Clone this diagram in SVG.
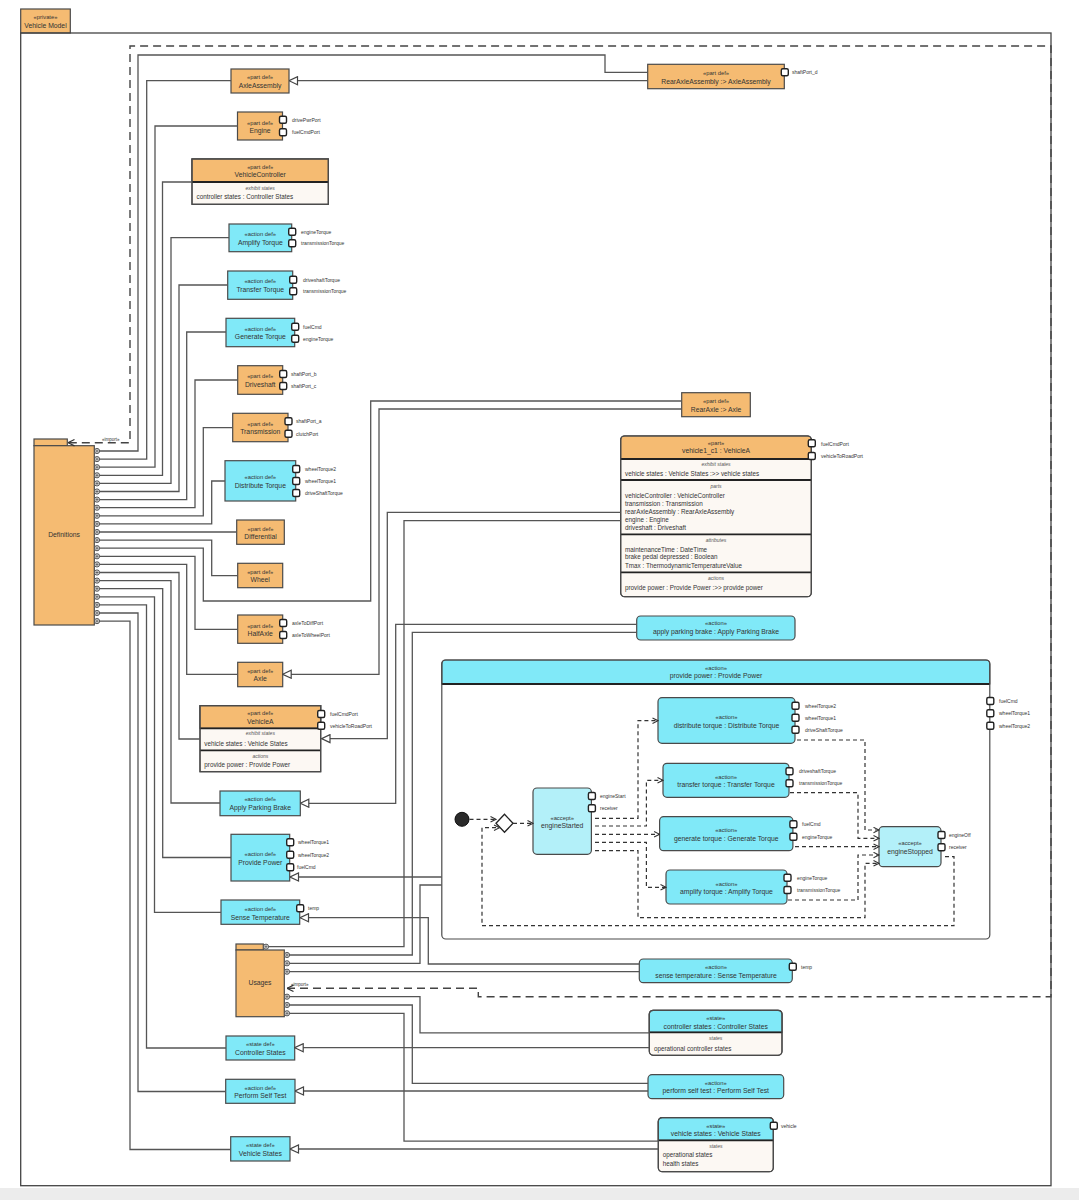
<svg xmlns="http://www.w3.org/2000/svg" width="1079" height="1200" viewBox="0 0 1079 1200">
<style>
.o{fill:#F5BB72;stroke:#4a4a4a;stroke-width:1.2}
.c{fill:#80E9F8;stroke:#4a4a4a;stroke-width:1.2}
.la{fill:#B3F0F9;stroke:#4a4a4a;stroke-width:1.2}
.cm{fill:#FCF8F3;stroke:#4a4a4a;stroke-width:1.2}
.bd{fill:none;stroke:#4a4a4a;stroke-width:1.2}
.sep{stroke:#222;stroke-width:1.8}
.t{font-family:"Liberation Sans",Arial,sans-serif;fill:#333;text-anchor:middle}
.st{font-size:5.8px}
.nm{font-size:6.8px}
.pl{font-family:"Liberation Sans",Arial,sans-serif;fill:#333;font-size:5px}
.ci{font-family:"Liberation Sans",Arial,sans-serif;fill:#555;font-size:5px;font-style:italic;text-anchor:middle}
.ct{font-family:"Liberation Sans",Arial,sans-serif;fill:#333;font-size:6.3px}
.p{fill:#fff;stroke:#222;stroke-width:1.4}
.ln{fill:none;stroke:#555;stroke-width:1.3}
.own{fill:none;stroke:#555;stroke-width:1.3;marker-start:url(#own)}
.gen{fill:none;stroke:#555;stroke-width:1.3;marker-end:url(#gen)}
.imp{fill:none;stroke:#444;stroke-width:1.4;stroke-dasharray:8 5}
.fl{fill:none;stroke:#333;stroke-width:1.2;stroke-dasharray:4 3;marker-end:url(#flow)}
</style>
<defs>
<marker id="gen" markerUnits="userSpaceOnUse" markerWidth="10" markerHeight="10" viewBox="0 0 10 10" refX="9.5" refY="5" orient="auto"><path d="M1,1 L9.5,5 L1,9 z" fill="#fff" stroke="#444" stroke-width="1.2"/></marker>
<marker id="imp" markerUnits="userSpaceOnUse" markerWidth="8" markerHeight="8" viewBox="0 0 8 8" refX="7.5" refY="4" orient="auto-start-reverse"><path d="M1,0.8 L7.5,4 L1,7.2" fill="none" stroke="#333" stroke-width="1.2"/></marker>
<marker id="flow" markerUnits="userSpaceOnUse" markerWidth="7" markerHeight="7" viewBox="0 0 7 7" refX="6.5" refY="3.5" orient="auto"><path d="M1,0.8 L6.5,3.5 L1,6.2" fill="none" stroke="#333" stroke-width="1.1"/></marker>
<marker id="own" markerUnits="userSpaceOnUse" markerWidth="7" markerHeight="7" viewBox="-3.5 -3.5 7 7" refX="0" refY="0" orient="auto"><circle r="2.6" fill="#e6e6e6" stroke="#444" stroke-width="0.9"/><path d="M-1.6,0 H1.6 M0,-1.6 V1.6" stroke="#444" stroke-width="0.7"/></marker>
</defs>
<rect x="0" y="0" width="1079" height="1200" fill="#fff"/>
<rect x="0" y="1188" width="1079" height="12" fill="#ececec"/>

<g id="frame">
<rect x="20.7" y="9" width="49.6" height="24" class="o"/>
<text class="t st" x="45.5" y="19.3">«private»</text>
<text class="t nm" x="45.5" y="27.6">Vehicle Model</text>
<rect x="20.7" y="33" width="1030.3" height="1152.7" fill="none" stroke="#444" stroke-width="1.3"/>
</g>

<g id="nodes">
<g id="definitions">
<rect x="34" y="439" width="33.3" height="6.7" class="o"/>
<rect x="34" y="445.7" width="60.3" height="179.3" class="o"/>
<text class="t nm" x="64" y="537.3">Definitions</text>
</g>
<g id="usages">
<rect x="236" y="944" width="27.3" height="6" class="o"/>
<rect x="236" y="950" width="48.3" height="66.7" class="o"/>
<text class="t nm" x="260" y="985">Usages</text>
</g>

<g id="axleAssembly"><rect x="231" y="69" width="58" height="24" class="o"/><text class="t st" x="260" y="79.3">«part def»</text><text class="t nm" x="260" y="88">AxleAssembly</text></g>

<g id="engine"><rect x="237.5" y="112" width="45" height="28" class="o"/><text class="t st" x="260" y="124.5">«part def»</text><text class="t nm" x="260" y="132.8">Engine</text>
<rect x="279.5" y="116.2" width="7" height="7" rx="1.5" class="p"/><rect x="279.5" y="128.8" width="7" height="7" rx="1.5" class="p"/>
<text class="pl" x="292" y="121.5">drivePwrPort</text><text class="pl" x="292" y="134">fuelCmdPort</text></g>

<g id="vehicleController"><rect x="192" y="159" width="136.3" height="45.3" class="cm"/><rect x="192" y="159" width="136.3" height="23" class="o"/><line x1="192" y1="182" x2="328.3" y2="182" class="sep"/><rect x="192" y="159" width="136.3" height="45.3" class="bd"/>
<text class="t st" x="260.2" y="168.7">«part def»</text><text class="t nm" x="260.2" y="177.2">VehicleController</text>
<text class="ci" x="260.2" y="190">exhibit states</text><text class="ct" x="196.5" y="199.3">controller states : Controller States</text></g>

<g id="amplifyTorque"><rect x="229" y="224" width="62.7" height="27.7" class="c"/><text class="t st" x="260.3" y="236.3">«action def»</text><text class="t nm" x="260.3" y="245">Amplify Torque</text>
<rect x="288.7" y="228.2" width="7" height="7" rx="1.5" class="p"/><rect x="288.7" y="239.8" width="7" height="7" rx="1.5" class="p"/>
<text class="pl" x="301" y="233.5">engineTorque</text><text class="pl" x="301" y="245.3">transmissionTorque</text></g>

<g id="transferTorque"><rect x="227.7" y="271" width="65" height="28.3" class="c"/><text class="t st" x="260.2" y="283">«action def»</text><text class="t nm" x="260.2" y="291.8">Transfer Torque</text>
<rect x="289.7" y="276.2" width="7" height="7" rx="1.5" class="p"/><rect x="289.7" y="287.8" width="7" height="7" rx="1.5" class="p"/>
<text class="pl" x="303" y="281.5">driveshaftTorque</text><text class="pl" x="303" y="293.3">transmissionTorque</text></g>

<g id="generateTorque"><rect x="226" y="318.3" width="68.7" height="28.4" class="c"/><text class="t st" x="260.3" y="331">«action def»</text><text class="t nm" x="260.3" y="339.3">Generate Torque</text>
<rect x="291.7" y="323.2" width="7" height="7" rx="1.5" class="p"/><rect x="291.7" y="335.2" width="7" height="7" rx="1.5" class="p"/>
<text class="pl" x="303" y="328.5">fuelCmd</text><text class="pl" x="303" y="340.7">engineTorque</text></g>

<g id="driveshaft"><rect x="237.7" y="365.7" width="45" height="28.6" class="o"/><text class="t st" x="260.2" y="377.8">«part def»</text><text class="t nm" x="260.2" y="386.6">Driveshaft</text>
<rect x="279.7" y="370.5" width="7" height="7" rx="1.5" class="p"/><rect x="279.7" y="382.5" width="7" height="7" rx="1.5" class="p"/>
<text class="pl" x="291" y="376">shaftPort_b</text><text class="pl" x="291" y="388">shaftPort_c</text></g>

<g id="transmission"><rect x="232.7" y="413.3" width="55.3" height="28.4" class="o"/><text class="t st" x="260.3" y="425.8">«part def»</text><text class="t nm" x="260.3" y="434.4">Transmission</text>
<rect x="285" y="417.8" width="7" height="7" rx="1.5" class="p"/><rect x="285" y="430.2" width="7" height="7" rx="1.5" class="p"/>
<text class="pl" x="296" y="423.3">shaftPort_a</text><text class="pl" x="296" y="435.7">clutchPort</text></g>

<g id="distributeTorque"><rect x="225" y="460.7" width="70.7" height="40.3" class="c"/><text class="t st" x="260.3" y="478.7">«action def»</text><text class="t nm" x="260.3" y="487.5">Distribute Torque</text>
<rect x="292.7" y="465.5" width="7" height="7" rx="1.5" class="p"/><rect x="292.7" y="477.5" width="7" height="7" rx="1.5" class="p"/><rect x="292.7" y="489.5" width="7" height="7" rx="1.5" class="p"/>
<text class="pl" x="305" y="471">wheelTorque2</text><text class="pl" x="305" y="483">wheelTorque1</text><text class="pl" x="305" y="495">driveShaftTorque</text></g>

<g id="differential"><rect x="236.7" y="520" width="47.6" height="24.3" class="o"/><text class="t st" x="260.5" y="530.5">«part def»</text><text class="t nm" x="260.5" y="539">Differential</text></g>

<g id="wheel"><rect x="237.7" y="563.3" width="45" height="24.4" class="o"/><text class="t st" x="260.2" y="573.8">«part def»</text><text class="t nm" x="260.2" y="582.4">Wheel</text></g>

<g id="halfAxle"><rect x="237.7" y="615" width="45" height="28.3" class="o"/><text class="t st" x="260.2" y="627.5">«part def»</text><text class="t nm" x="260.2" y="636">HalfAxle</text>
<rect x="279.7" y="619.5" width="7" height="7" rx="1.5" class="p"/><rect x="279.7" y="631.5" width="7" height="7" rx="1.5" class="p"/>
<text class="pl" x="292" y="625">axleToDiffPort</text><text class="pl" x="292" y="637">axleToWheelPort</text></g>

<g id="axle"><rect x="237.7" y="662.3" width="45" height="24.4" class="o"/><text class="t st" x="260.2" y="672.8">«part def»</text><text class="t nm" x="260.2" y="681.4">Axle</text></g>

<g id="vehicleA"><rect x="200" y="705.7" width="120.7" height="66" class="cm"/><rect x="200" y="705.7" width="120.7" height="22.6" class="o"/><line x1="200" y1="728.3" x2="320.7" y2="728.3" class="sep"/><line x1="200" y1="750.3" x2="320.7" y2="750.3" class="sep"/><rect x="200" y="705.7" width="120.7" height="66" class="bd"/>
<text class="t st" x="260.3" y="715.3">«part def»</text><text class="t nm" x="260.3" y="723.6">VehicleA</text>
<text class="ci" x="260.3" y="735">exhibit states</text><text class="ct" x="204.3" y="745.6">vehicle states : Vehicle States</text>
<text class="ci" x="260.3" y="757.7">actions</text><text class="ct" x="204.3" y="767.3">provide power : Provide Power</text>
<rect x="317.7" y="710.5" width="7" height="7" rx="1.5" class="p"/><rect x="317.7" y="722.2" width="7" height="7" rx="1.5" class="p"/>
<text class="pl" x="330" y="716">fuelCmdPort</text><text class="pl" x="330" y="727.7">vehicleToRoadPort</text></g>

<g id="applyParkingBrakeDef"><rect x="220" y="791" width="80.3" height="24.7" class="c"/><text class="t st" x="260.2" y="801">«action def»</text><text class="t nm" x="260.2" y="809.8">Apply Parking Brake</text></g>

<g id="providePowerDef"><rect x="231" y="834.3" width="58.7" height="46.7" class="c"/><text class="t st" x="260.3" y="856">«action def»</text><text class="t nm" x="260.3" y="864.8">Provide Power</text>
<rect x="286.7" y="838.8" width="7" height="7" rx="1.5" class="p"/><rect x="286.7" y="851.2" width="7" height="7" rx="1.5" class="p"/><rect x="286.7" y="863.8" width="7" height="7" rx="1.5" class="p"/>
<text class="pl" x="298" y="844.3">wheelTorque1</text><text class="pl" x="298" y="856.7">wheelTorque2</text><text class="pl" x="297" y="869.3">fuelCmd</text></g>

<g id="senseTemperatureDef"><rect x="221" y="900" width="78.7" height="24.3" class="c"/><text class="t st" x="260.3" y="911">«action def»</text><text class="t nm" x="260.3" y="919.5">Sense Temperature</text>
<rect x="296.7" y="904.8" width="7" height="7" rx="1.5" class="p"/><text class="pl" x="308" y="910.3">temp</text></g>

<g id="controllerStatesDef"><rect x="226" y="1036" width="68.7" height="24" class="c"/><text class="t st" x="260.3" y="1046.3">«state def»</text><text class="t nm" x="260.3" y="1054.8">Controller States</text></g>

<g id="performSelfTestDef"><rect x="225.7" y="1079.3" width="69.3" height="24" class="c"/><text class="t st" x="260.3" y="1089.6">«action def»</text><text class="t nm" x="260.3" y="1098.2">Perform Self Test</text></g>

<g id="vehicleStatesDef"><rect x="230.7" y="1136.7" width="59.3" height="24.3" class="c"/><text class="t st" x="260.3" y="1147">«state def»</text><text class="t nm" x="260.3" y="1155.6">Vehicle States</text></g>

<g id="rearAxleAssembly"><rect x="647.7" y="64.3" width="136.6" height="24.4" class="o"/><text class="t st" x="716" y="75.3">«part def»</text><text class="t nm" x="716" y="83.6">RearAxleAssembly :&gt; AxleAssembly</text>
<rect x="781.3" y="68.8" width="7" height="7" rx="1.5" class="p"/><text class="pl" x="792" y="74.3">shaftPort_d</text></g>

<g id="rearAxle"><rect x="681.7" y="392.7" width="68.6" height="24" class="o"/><text class="t st" x="716" y="403">«part def»</text><text class="t nm" x="716" y="411.6">RearAxle :&gt; Axle</text></g>

<g id="vehicle1_c1"><rect x="620.7" y="436" width="190.6" height="160.7" rx="4" class="cm"/>
<path d="M620.7,459 V440 Q620.7,436 624.7,436 H807.3 Q811.3,436 811.3,440 V459 Z" class="o"/>
<line x1="620.7" y1="459" x2="811.3" y2="459" class="sep"/><line x1="620.7" y1="480" x2="811.3" y2="480" class="sep"/><line x1="620.7" y1="534.3" x2="811.3" y2="534.3" class="sep"/><line x1="620.7" y1="572.3" x2="811.3" y2="572.3" class="sep"/>
<rect x="620.7" y="436" width="190.6" height="160.7" rx="4" class="bd"/>
<text class="t st" x="716" y="445.3">«part»</text><text class="t nm" x="716" y="453.4">vehicle1_c1 : VehicleA</text>
<text class="ci" x="716" y="466">exhibit states</text>
<text class="ct" x="625" y="476.3">vehicle states : Vehicle States :&gt;&gt; vehicle states</text>
<text class="ci" x="716" y="488">parts</text>
<text class="ct" x="625" y="497.8">vehicleController : VehicleController</text>
<text class="ct" x="625" y="505.5">transmission : Transmission</text>
<text class="ct" x="625" y="513.5">rearAxleAssembly : RearAxleAssembly</text>
<text class="ct" x="625" y="521.5">engine : Engine</text>
<text class="ct" x="625" y="530">driveshaft : Driveshaft</text>
<text class="ci" x="716" y="542">attributes</text>
<text class="ct" x="625" y="551.5">maintenanceTime : DateTime</text>
<text class="ct" x="625" y="559.2">brake pedal depressed : Boolean</text>
<text class="ct" x="625" y="568">Tmax : ThermodynamicTemperatureValue</text>
<text class="ci" x="716" y="580">actions</text>
<text class="ct" x="625" y="589.5">provide power : Provide Power :&gt;&gt; provide power</text>
<rect x="808.3" y="439.8" width="7" height="7" rx="1.5" class="p"/><rect x="808.3" y="452.5" width="7" height="7" rx="1.5" class="p"/>
<text class="pl" x="821" y="445.5">fuelCmdPort</text><text class="pl" x="821" y="458">vehicleToRoadPort</text></g>

<g id="applyParkingBrake"><rect x="636.7" y="616" width="158.3" height="24" rx="4" class="c"/><text class="t st" x="716" y="625.3">«action»</text><text class="t nm" x="716" y="634.4">apply parking brake : Apply Parking Brake</text></g>

<g id="providePower"><rect x="441.8" y="660" width="548" height="279" rx="4" fill="#fff" stroke="none"/>
<path d="M441.8,684 V664 Q441.8,660 445.8,660 H985.8 Q989.8,660 989.8,664 V684 Z" class="c"/>
<line x1="441.8" y1="684" x2="989.8" y2="684" class="sep"/>
<rect x="441.8" y="660" width="548" height="279" rx="4" class="bd"/>
<text class="t st" x="716" y="670.3">«action»</text><text class="t nm" x="716" y="678.2">provide power : Provide Power</text>
<rect x="986.8" y="697.5" width="7" height="7" rx="1.5" class="p"/><rect x="986.8" y="709.8" width="7" height="7" rx="1.5" class="p"/><rect x="986.8" y="722.2" width="7" height="7" rx="1.5" class="p"/>
<text class="pl" x="999" y="703">fuelCmd</text><text class="pl" x="999" y="715.3">wheelTorque1</text><text class="pl" x="999" y="727.7">wheelTorque2</text>

<g id="initial"><circle cx="462" cy="819.3" r="7" fill="#2a2a2a" stroke="#111" stroke-width="1"/></g>
<g id="decision"><polygon points="496,823.3 504.5,814.3 513,823.3 504.5,832.3" fill="#fff" stroke="#222" stroke-width="1.3"/></g>

<g id="engineStarted"><rect x="533" y="788" width="58.4" height="66.3" rx="4" class="la"/><text class="t st" x="562.2" y="819.6">«accept»</text><text class="t nm" x="562.2" y="827.6">engineStarted</text>
<rect x="588.4" y="792.5" width="7" height="7" rx="1.5" class="p"/><rect x="588.4" y="804.8" width="7" height="7" rx="1.5" class="p"/>
<text class="pl" x="600" y="798">engineStart</text><text class="pl" x="600" y="810.3">receiver</text></g>

<g id="distributeTorqueUse"><rect x="658" y="697.7" width="137" height="45.6" rx="4" class="c"/><text class="t st" x="726.5" y="718.6">«action»</text><text class="t nm" x="726.5" y="727.6">distribute torque : Distribute Torque</text>
<rect x="792" y="702.2" width="7" height="7" rx="1.5" class="p"/><rect x="792" y="714.2" width="7" height="7" rx="1.5" class="p"/><rect x="792" y="726.2" width="7" height="7" rx="1.5" class="p"/>
<text class="pl" x="805" y="707.7">wheelTorque2</text><text class="pl" x="805" y="719.7">wheelTorque1</text><text class="pl" x="805" y="731.7">driveShaftTorque</text></g>

<g id="transferTorqueUse"><rect x="663" y="763.3" width="126" height="34" rx="4" class="c"/><text class="t st" x="726" y="779">«action»</text><text class="t nm" x="726" y="786.6">transfer torque : Transfer Torque</text>
<rect x="786" y="767.8" width="7" height="7" rx="1.5" class="p"/><rect x="786" y="779.8" width="7" height="7" rx="1.5" class="p"/>
<text class="pl" x="799" y="773.3">driveshaftTorque</text><text class="pl" x="799" y="785.3">transmissionTorque</text></g>

<g id="generateTorqueUse"><rect x="659.6" y="816.7" width="133.3" height="34" rx="4" class="c"/><text class="t st" x="726.2" y="832">«action»</text><text class="t nm" x="726.2" y="840.6">generate torque : Generate Torque</text>
<rect x="789.9" y="820.8" width="7" height="7" rx="1.5" class="p"/><rect x="789.9" y="833.2" width="7" height="7" rx="1.5" class="p"/>
<text class="pl" x="802" y="826.3">fuelCmd</text><text class="pl" x="802" y="838.7">engineTorque</text></g>

<g id="amplifyTorqueUse"><rect x="666" y="870" width="121" height="34" rx="4" class="c"/><text class="t st" x="726.5" y="886">«action»</text><text class="t nm" x="726.5" y="894">amplify torque : Amplify Torque</text>
<rect x="784" y="874.2" width="7" height="7" rx="1.5" class="p"/><rect x="784" y="886.5" width="7" height="7" rx="1.5" class="p"/>
<text class="pl" x="797" y="879.7">engineTorque</text><text class="pl" x="797" y="892">transmissionTorque</text></g>

<g id="engineStopped"><rect x="879" y="826.7" width="62" height="40" rx="4" class="la"/><text class="t st" x="910" y="845.3">«accept»</text><text class="t nm" x="910" y="854">engineStopped</text>
<rect x="938" y="831.5" width="7" height="7" rx="1.5" class="p"/><rect x="938" y="843.8" width="7" height="7" rx="1.5" class="p"/>
<text class="pl" x="949" y="837">engineOff</text><text class="pl" x="949" y="849.3">receiver</text></g>
</g>

<g id="senseTemperature"><rect x="639.3" y="959" width="153" height="23.7" rx="4" class="c"/><text class="t st" x="716" y="969.3">«action»</text><text class="t nm" x="716" y="977.8">sense temperature : Sense Temperature</text>
<rect x="789.3" y="963.2" width="7" height="7" rx="1.5" class="p"/><text class="pl" x="801" y="968.7">temp</text></g>

<g id="controllerStates"><rect x="649.3" y="1010.3" width="132.7" height="45" rx="4" class="cm"/>
<path d="M649.3,1032.3 V1014.3 Q649.3,1010.3 653.3,1010.3 H778 Q782,1010.3 782,1014.3 V1032.3 Z" class="c"/>
<line x1="649.3" y1="1032.3" x2="782" y2="1032.3" class="sep"/><rect x="649.3" y="1010.3" width="132.7" height="45" rx="4" class="bd"/>
<text class="t st" x="715.7" y="1020.3">«state»</text><text class="t nm" x="715.7" y="1028.8">controller states : Controller States</text>
<text class="ci" x="715.7" y="1040.3">states</text><text class="ct" x="654" y="1050.6">operational controller states</text></g>

<g id="performSelfTest"><rect x="648" y="1074.7" width="135.7" height="24" rx="4" class="c"/><text class="t st" x="715.8" y="1084.7">«action»</text><text class="t nm" x="715.8" y="1093.4">perform self test : Perform Self Test</text></g>

<g id="vehicleStates"><rect x="658.3" y="1117.7" width="115" height="54" rx="4" class="cm"/>
<path d="M658.3,1140.3 V1121.7 Q658.3,1117.7 662.3,1117.7 H769.3 Q773.3,1117.7 773.3,1121.7 V1140.3 Z" class="c"/>
<line x1="658.3" y1="1140.3" x2="773.3" y2="1140.3" class="sep"/><rect x="658.3" y="1117.7" width="115" height="54" rx="4" class="bd"/>
<text class="t st" x="715.8" y="1127.7">«state»</text><text class="t nm" x="715.8" y="1135.8">vehicle states : Vehicle States</text>
<text class="ci" x="715.8" y="1148.3">states</text><text class="ct" x="662.7" y="1157.3">operational states</text><text class="ct" x="662.7" y="1165.6">health states</text>
<rect x="770.3" y="1122.2" width="7" height="7" rx="1.5" class="p"/><text class="pl" x="781" y="1127.7">vehicle</text></g>
</g>

<g id="connectors">
<path class="imp" d="M287,988.3 H478.3 V996.7 H1051 V46 H130 V442.7 H68" marker-start="url(#imp)" marker-end="url(#imp)"/>
<text class="pl" x="102" y="440.5" style="font-size:4.5px">«import»</text>
<text class="pl" x="291" y="985.5" style="font-size:4.5px">«import»</text>

<path class="own" d="M97,451 H138 V55 H605 V72.3 H647.7"/>
<path class="own" d="M97,459.1 H146.7 V80.7 H231"/>
<path class="own" d="M97,467.2 H155 V126 H237.5"/>
<path class="own" d="M97,475.3 H162.5 V182 H192"/>
<path class="own" d="M97,483.4 H171 V237.7 H229"/>
<path class="own" d="M97,491.5 H179 V285 H227.7"/>
<path class="own" d="M97,499.6 H186.7 V332 H226"/>
<path class="own" d="M97,507.7 H195 V380 H237.7"/>
<path class="own" d="M97,515.8 H203.3 V427.7 H232.7"/>
<path class="own" d="M97,523.9 H211.7 V481 H225"/>
<path class="own" d="M97,532 H236.7"/>
<path class="own" d="M97,540.1 H211.7 V575.7 H237.7"/>
<path class="own" d="M97,548.2 H203.3 V601 H370.7 V401 H681.7"/>
<path class="own" d="M97,556.3 H195 V629.3 H237.7"/>
<path class="own" d="M97,564.4 H186.7 V674.3 H237.7"/>
<path class="own" d="M97,572.5 H179 V739 H200"/>
<path class="own" d="M97,580.6 H171 V803 H220"/>
<path class="own" d="M97,588.7 H162.7 V857.5 H231"/>
<path class="own" d="M97,596.8 H154.5 V912.3 H221"/>
<path class="own" d="M97,604.9 H146.5 V1048 H226"/>
<path class="own" d="M97,613 H138 V1091.5 H225.7"/>
<path class="own" d="M97,621.1 H130 V1149.5 H230.7"/>

<path class="own" d="M266,946.7 H404 V520.7 H620.7"/>
<path class="own" d="M287,955 H412.3 V632.3 H636.7"/>
<path class="own" d="M287,963.3 H420 V885 H441.8"/>
<path class="own" d="M287,971.7 H639.3"/>
<path class="own" d="M287,996.7 H420 V1032.8 H649.3"/>
<path class="own" d="M287,1005 H412.3 V1083.3 H648"/>
<path class="own" d="M287,1013.3 H404 V1141.2 H658.3"/>

<path class="gen" d="M647.7,80.7 H289"/>
<path class="gen" d="M681.7,409 H379 V674.3 H282.7"/>
<path class="gen" d="M620.7,512.3 H387.3 V738.6 H321.5"/>
<path class="gen" d="M636.7,624.3 H395.7 V803.3 H300.3"/>
<path class="gen" d="M441.8,877 H290"/>
<path class="gen" d="M639.3,964 H428.3 V917.7 H300"/>
<path class="gen" d="M649.3,1047.7 H294.7"/>
<path class="gen" d="M648,1091 H295"/>
<path class="gen" d="M658.3,1149 H290"/>

<path class="fl" d="M469.5,819.3 H496"/>
<path class="fl" d="M513,823.3 H533"/>
<path class="fl" d="M945,856.7 H954 V925.7 H482 V827.7 H499.5"/>
<path class="fl" d="M595,818.3 H638 V720.7 H658"/>
<path class="fl" d="M595,826 H646.4 V780.3 H663"/>
<path class="fl" d="M595,834.3 H659.6"/>
<path class="fl" d="M595,842.3 H646.4 V887.3 H666"/>
<path class="fl" d="M595,850.7 H638 V917.7 H865 V863.3 H879"/>
<path class="fl" d="M797,740 H865 V830 H879"/>
<path class="fl" d="M790,792.7 H858 V838.3 H879"/>
<path class="fl" d="M795,846.7 H879"/>
<path class="fl" d="M788,900 H858 V855 H879"/>
</g>
</svg>
